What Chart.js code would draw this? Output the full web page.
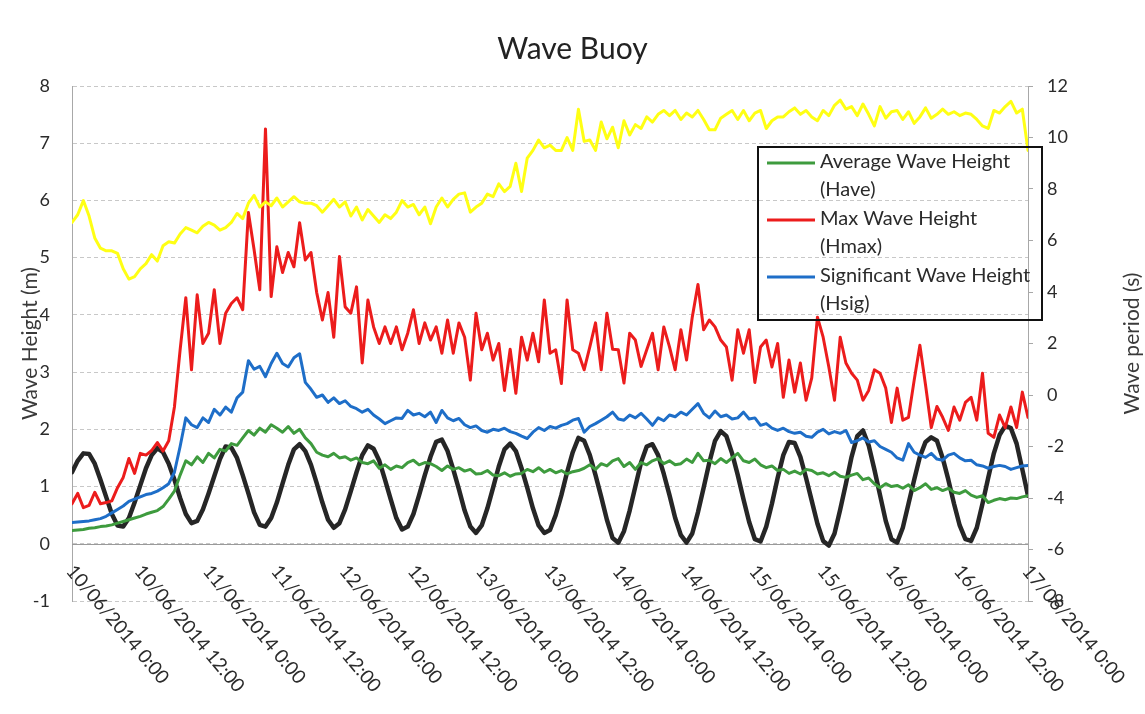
<!DOCTYPE html>
<html>
<head>
<meta charset="utf-8">
<title>Wave Buoy</title>
<script src="https://cdn.jsdelivr.net/npm/chart.js@4.4.0/dist/chart.umd.min.js"></script>
<style>
  html, body { margin: 0; padding: 0; background: #ffffff; }
  #c { display: block; }
</style>
</head>
<body>
<canvas id="c" width="1145" height="714"></canvas>
<script>
// Buoy record, 10/06/2014 0:00 to 17/06/2014 0:00, one sample per hour.
const SAMPLE_HOURS = 1;

const tickLabels = [
  '10/06/2014 0:00', '10/06/2014 12:00', '11/06/2014 0:00', '11/06/2014 12:00',
  '12/06/2014 0:00', '12/06/2014 12:00', '13/06/2014 0:00', '13/06/2014 12:00',
  '14/06/2014 0:00', '14/06/2014 12:00', '15/06/2014 0:00', '15/06/2014 12:00',
  '16/06/2014 0:00', '16/06/2014 12:00', '17/06/2014 0:00'
];

const seriesNames = [
  ['Average Wave Height', '(Have)'],
  ['Max Wave Height', '(Hmax)'],
  ['Significant Wave Height', '(Hsig)']
];

// Wave period (s), right axis
const wavePeriod = [
  6.70, 7.00, 7.55, 6.95, 6.10, 5.70, 5.60, 5.60, 5.50, 4.90, 4.50, 4.60,
  4.90, 5.10, 5.45, 5.20, 5.80, 5.95, 5.90, 6.25, 6.50, 6.40, 6.30, 6.55,
  6.70, 6.60, 6.40, 6.50, 6.70, 7.05, 6.85, 7.45, 7.75, 7.30, 7.50, 7.35,
  7.65, 7.30, 7.50, 7.70, 7.50, 7.45, 7.45, 7.35, 7.10, 7.35, 7.60, 7.30,
  7.50, 6.95, 7.30, 6.80, 7.20, 6.95, 6.70, 7.00, 6.85, 7.10, 7.55, 7.30,
  7.40, 7.00, 7.30, 6.65, 7.30, 7.65, 7.30, 7.60, 7.80, 7.85, 7.10, 7.30,
  7.45, 7.80, 7.70, 8.20, 7.90, 8.10, 9.00, 7.90, 9.20, 9.50, 9.90, 9.60,
  9.70, 9.50, 9.50, 10.00, 9.50, 11.10, 9.85, 9.90, 9.50, 10.60, 9.95, 10.40,
  9.60, 10.65, 10.10, 10.50, 10.35, 10.80, 10.60, 10.90, 11.05, 10.85, 11.05, 10.70,
  10.95, 10.80, 11.05, 10.70, 10.30, 10.30, 10.75, 10.90, 11.05, 10.70, 11.05, 10.65,
  10.95, 11.05, 10.35, 10.65, 10.80, 10.80, 11.00, 11.15, 10.90, 11.05, 10.80, 10.65,
  11.05, 10.85, 11.25, 11.45, 11.10, 11.20, 10.85, 11.30, 10.90, 10.45, 11.20, 10.75,
  11.00, 11.05, 10.70, 11.00, 10.55, 10.80, 11.15, 10.75, 10.90, 11.10, 10.90, 11.00,
  10.85, 10.95, 10.90, 10.70, 10.45, 10.35, 11.05, 10.95, 11.20, 11.40, 10.95, 11.10,
  9.50
];

// Average wave height Have (m)
const heightAverage = [
  0.23, 0.24, 0.25, 0.27, 0.28, 0.30, 0.31, 0.33, 0.36, 0.39, 0.42, 0.45,
  0.48, 0.52, 0.55, 0.58, 0.65, 0.78, 0.92, 1.20, 1.45, 1.38, 1.52, 1.42,
  1.58, 1.50, 1.65, 1.62, 1.75, 1.72, 1.85, 1.98, 1.90, 2.02, 1.95, 2.08,
  2.02, 1.95, 2.05, 1.93, 2.00, 1.85, 1.75, 1.60, 1.55, 1.52, 1.58, 1.50,
  1.52, 1.46, 1.50, 1.42, 1.40, 1.45, 1.32, 1.38, 1.30, 1.36, 1.33, 1.42,
  1.46, 1.38, 1.42, 1.40, 1.35, 1.28, 1.36, 1.30, 1.33, 1.27, 1.30, 1.22,
  1.23, 1.28, 1.20, 1.19, 1.24, 1.18, 1.22, 1.23, 1.30, 1.26, 1.33, 1.25,
  1.30, 1.24, 1.28, 1.22, 1.26, 1.28, 1.32, 1.38, 1.30, 1.40, 1.36, 1.45,
  1.49, 1.35, 1.42, 1.30, 1.42, 1.38, 1.45, 1.49, 1.40, 1.45, 1.38, 1.40,
  1.48, 1.42, 1.58, 1.45, 1.46, 1.40, 1.49, 1.42, 1.50, 1.58, 1.45, 1.42,
  1.48, 1.38, 1.33, 1.36, 1.28, 1.30, 1.23, 1.27, 1.22, 1.30, 1.28, 1.22,
  1.24, 1.19, 1.25, 1.18, 1.16, 1.20, 1.23, 1.12, 1.15, 1.05, 0.98, 1.05,
  1.00, 1.02, 0.97, 1.03, 0.93, 0.98, 1.05, 0.95, 0.98, 0.93, 0.97, 0.90,
  0.88, 0.93, 0.85, 0.81, 0.84, 0.72, 0.76, 0.79, 0.77, 0.80, 0.79, 0.82,
  0.84
];

// Maximum wave height Hmax (m)
const heightMax = [
  0.70, 0.88, 0.63, 0.67, 0.90, 0.70, 0.72, 0.75, 0.98, 1.16, 1.49, 1.23,
  1.58, 1.55, 1.63, 1.77, 1.62, 1.80, 2.39, 3.39, 4.30, 3.04, 4.35, 3.50,
  3.68, 4.44, 3.50, 4.03, 4.20, 4.30, 4.09, 5.79, 5.14, 4.44, 7.25, 4.32,
  5.19, 4.74, 5.09, 4.84, 5.61, 4.96, 5.09, 4.39, 3.91, 4.39, 3.61, 5.02,
  4.14, 4.03, 4.49, 3.16, 4.26, 3.79, 3.50, 3.79, 3.50, 3.79, 3.39, 3.68,
  4.09, 3.50, 3.86, 3.56, 3.79, 3.33, 3.91, 3.33, 3.86, 3.61, 2.86, 4.03,
  3.39, 3.68, 3.21, 3.50, 2.68, 3.40, 2.63, 3.61, 3.21, 3.68, 3.18, 4.26,
  3.33, 3.39, 2.80, 4.26, 3.39, 3.33, 3.04, 3.44, 3.86, 3.04, 4.03, 3.40,
  3.39, 2.81, 3.68, 3.56, 3.10, 3.39, 3.68, 3.04, 3.79, 3.44, 3.04, 3.74,
  3.21, 3.96, 4.53, 3.74, 3.91, 3.79, 3.56, 3.44, 2.86, 3.74, 3.33, 3.74,
  2.82, 3.44, 3.56, 3.09, 3.50, 2.56, 3.21, 2.65, 3.16, 2.51, 2.90, 3.96,
  3.61, 3.09, 2.51, 3.61, 3.16, 2.98, 2.86, 2.51, 2.68, 3.04, 2.98, 2.72,
  2.12, 2.72, 2.16, 2.21, 2.86, 3.47, 2.77, 2.03, 2.40, 2.21, 1.98, 2.39,
  2.16, 2.47, 2.56, 2.16, 2.98, 1.93, 1.86, 2.25, 2.03, 2.39, 2.03, 2.65,
  2.21
];

// Significant wave height Hsig (m)
const heightSignificant = [
  0.37, 0.38, 0.39, 0.40, 0.42, 0.44, 0.48, 0.54, 0.60, 0.66, 0.74, 0.78,
  0.82, 0.86, 0.88, 0.92, 0.98, 1.05, 1.25, 1.70, 2.20, 2.08, 2.03, 2.20,
  2.12, 2.35, 2.25, 2.39, 2.30, 2.55, 2.65, 3.20, 3.05, 3.10, 2.92, 3.15,
  3.33, 3.15, 3.09, 3.25, 3.32, 2.82, 2.70, 2.56, 2.60, 2.47, 2.55, 2.45,
  2.50, 2.40, 2.36, 2.30, 2.35, 2.25, 2.18, 2.10, 2.15, 2.20, 2.19, 2.33,
  2.25, 2.28, 2.22, 2.30, 2.12, 2.33, 2.20, 2.15, 2.19, 2.08, 2.03, 2.06,
  1.98, 1.95, 2.00, 1.98, 2.02, 1.96, 1.93, 1.88, 1.84, 1.95, 2.03, 1.98,
  2.05, 2.02, 2.07, 2.10, 2.16, 2.19, 1.95, 2.05, 2.10, 2.16, 2.22, 2.30,
  2.18, 2.16, 2.25, 2.20, 2.28, 2.18, 2.07, 2.20, 2.15, 2.25, 2.22, 2.30,
  2.25, 2.35, 2.45, 2.28, 2.20, 2.32, 2.22, 2.25, 2.18, 2.20, 2.30, 2.18,
  2.20, 2.07, 2.10, 2.02, 1.98, 2.02, 1.96, 1.93, 1.95, 1.88, 1.86, 1.95,
  2.00, 1.92, 1.96, 1.93, 1.98, 1.77, 1.80, 1.85, 1.78, 1.80, 1.70, 1.65,
  1.60, 1.50, 1.46, 1.75, 1.60, 1.55, 1.51, 1.58, 1.48, 1.46, 1.55, 1.58,
  1.50, 1.45, 1.46, 1.38, 1.36, 1.32, 1.35, 1.37, 1.35, 1.30, 1.33, 1.36,
  1.37
];

// Tide level (m)
const tideLevel = [
  1.25, 1.45, 1.58, 1.57, 1.40, 1.12, 0.82, 0.52, 0.32, 0.30, 0.45, 0.72,
  1.02, 1.32, 1.55, 1.67, 1.60, 1.40, 1.12, 0.80, 0.52, 0.36, 0.40, 0.60,
  0.88, 1.18, 1.48, 1.70, 1.68, 1.50, 1.20, 0.88, 0.55, 0.33, 0.30, 0.45,
  0.72, 1.05, 1.38, 1.65, 1.74, 1.62, 1.38, 1.06, 0.72, 0.42, 0.28, 0.36,
  0.60, 0.92, 1.25, 1.55, 1.72, 1.66, 1.45, 1.12, 0.78, 0.45, 0.25, 0.30,
  0.52, 0.85, 1.20, 1.52, 1.78, 1.82, 1.62, 1.30, 0.95, 0.58, 0.30, 0.19,
  0.32, 0.62, 0.98, 1.35, 1.65, 1.75, 1.62, 1.32, 0.98, 0.62, 0.32, 0.19,
  0.24, 0.50, 0.85, 1.25, 1.60, 1.85, 1.80, 1.55, 1.20, 0.82, 0.42, 0.10,
  0.02, 0.22, 0.58, 1.00, 1.42, 1.70, 1.74, 1.55, 1.22, 0.85, 0.45, 0.15,
  0.02, 0.18, 0.55, 0.98, 1.42, 1.80, 1.97, 1.88, 1.58, 1.20, 0.78, 0.38,
  0.08, 0.04, 0.30, 0.70, 1.15, 1.55, 1.78, 1.76, 1.52, 1.15, 0.75, 0.35,
  0.05, -0.03, 0.18, 0.60, 1.05, 1.52, 1.88, 1.98, 1.72, 1.30, 0.85, 0.40,
  0.08, 0.02, 0.28, 0.70, 1.12, 1.52, 1.78, 1.86, 1.80, 1.50, 1.12, 0.70,
  0.32, 0.08, 0.05, 0.28, 0.70, 1.15, 1.58, 1.90, 2.06, 2.02, 1.75, 1.30,
  0.84
];

const FONT = 'Lato, "Open Sans", "DejaVu Sans", sans-serif';
const TEXT = '#2b2b2b';

const toPoints = arr => arr.map((v, i) => ({ x: i * SAMPLE_HOURS, y: v }));

// X tick labels slanted down to the right from the zero line,
// axis titles, the zero axis line and the framed legend.
const decorations = {
  id: 'decorations',
  beforeDatasetsDraw(chart) {
    const { ctx, chartArea, scales } = chart;
    const y0 = scales.yH.getPixelForValue(0);
    ctx.save();
    ctx.strokeStyle = '#9a9a9a';
    ctx.lineWidth = 1;
    ctx.beginPath();
    ctx.moveTo(chartArea.left, Math.round(y0) + 0.5);
    ctx.lineTo(chartArea.right, Math.round(y0) + 0.5);
    ctx.stroke();
    ctx.restore();
  },
  afterDraw(chart) {
    const { ctx, chartArea, scales } = chart;
    const xs = scales.x;
    const y0 = scales.yH.getPixelForValue(0);
    ctx.save();
    ctx.fillStyle = TEXT;
    ctx.font = '19px ' + FONT;
    ctx.textAlign = 'left';
    ctx.textBaseline = 'middle';
    tickLabels.forEach((lab, i) => {
      const x = xs.getPixelForValue(i * 12);
      ctx.save();
      ctx.translate(x - 2, y0 + 24);
      ctx.rotate(50 * Math.PI / 180);
      ctx.fillText(lab, 0, 0);
      ctx.restore();
    });

    // axis titles
    const midY = (chartArea.top + chartArea.bottom) / 2;
    ctx.font = '21px ' + FONT;
    ctx.fillStyle = '#3a3a3a';
    ctx.textAlign = 'center';
    ctx.save();
    ctx.translate(30, midY);
    ctx.rotate(-Math.PI / 2);
    ctx.fillText('Wave Height (m)', 0, 0);
    ctx.restore();
    ctx.save();
    ctx.translate(1132, midY);
    ctx.rotate(-Math.PI / 2);
    ctx.fillText('Wave period (s)', 0, 0);
    ctx.restore();

    // legend
    const box = { x: 758, y: 147, w: 284, h: 173 };
    ctx.strokeStyle = '#111111';
    ctx.lineWidth = 2;
    ctx.strokeRect(box.x, box.y, box.w, box.h);
    const rows = [163, 220, 277];
    const legendSets = [1, 2, 3];
    ctx.font = '20px ' + FONT;
    ctx.textAlign = 'left';
    ctx.fillStyle = TEXT;
    legendSets.forEach((dsIndex, r) => {
      const ds = chart.data.datasets[dsIndex];
      ctx.strokeStyle = ds.borderColor;
      ctx.lineWidth = 3;
      ctx.beginPath();
      ctx.moveTo(767, rows[r]);
      ctx.lineTo(815, rows[r]);
      ctx.stroke();
      ctx.fillText(seriesNames[r][0], 820, rows[r] - 1);
      ctx.fillText(seriesNames[r][1], 820, rows[r] + 27);
    });
    ctx.restore();
  }
};

new Chart(document.getElementById('c'), {
  type: 'line',
  data: {
    datasets: [
      { label: 'Wave period', data: toPoints(wavePeriod), yAxisID: 'yP',
        borderColor: '#ffff14', borderWidth: 3 },
      { label: seriesNames[0].join(' '), data: toPoints(heightAverage), yAxisID: 'yH',
        borderColor: '#3e9b3e', borderWidth: 3 },
      { label: seriesNames[1].join(' '), data: toPoints(heightMax), yAxisID: 'yH',
        borderColor: '#ec1c1c', borderWidth: 3 },
      { label: seriesNames[2].join(' '), data: toPoints(heightSignificant), yAxisID: 'yH',
        borderColor: '#1e6ec8', borderWidth: 3 },
      { label: 'Tide', data: toPoints(tideLevel), yAxisID: 'yH',
        borderColor: '#262626', borderWidth: 4.5 }
    ]
  },
  options: {
    responsive: false,
    animation: false,
    devicePixelRatio: 1,
    layout: { padding: 0 },
    elements: {
      point: { radius: 0 },
      line: { tension: 0, borderJoinStyle: 'round', borderCapStyle: 'round' }
    },
    plugins: {
      legend: { display: false },
      tooltip: { enabled: false },
      title: {
        display: true,
        text: 'Wave Buoy',
        color: '#222222',
        font: { family: FONT, size: 30, weight: 'normal' },
        padding: { top: 31, bottom: 19 }
      }
    },
    scales: {
      x: {
        type: 'linear',
        min: 0,
        max: 168,
        ticks: { display: false, stepSize: 12 },
        grid: { display: false },
        border: { display: false },
        afterFit(s) { s.height = 113; }
      },
      yH: {
        position: 'left',
        min: -1,
        max: 8,
        ticks: { stepSize: 1, padding: 22, color: TEXT, font: { family: FONT, size: 18 } },
        grid: { color: '#c8c8c8', drawTicks: false },
        border: { display: true, color: '#a8a8a8', dash: [4, 3] },
        afterFit(s) { s.width = 72; }
      },
      yP: {
        position: 'right',
        min: -8,
        max: 12,
        ticks: { stepSize: 2, padding: 14, color: TEXT, font: { family: FONT, size: 18 } },
        grid: { drawOnChartArea: false, drawTicks: true, tickLength: 5, color: '#a8a8a8' },
        border: { display: true, color: '#a8a8a8' },
        afterFit(s) { s.width = 117; }
      }
    }
  },
  plugins: [decorations]
});
</script>
</body>
</html>
